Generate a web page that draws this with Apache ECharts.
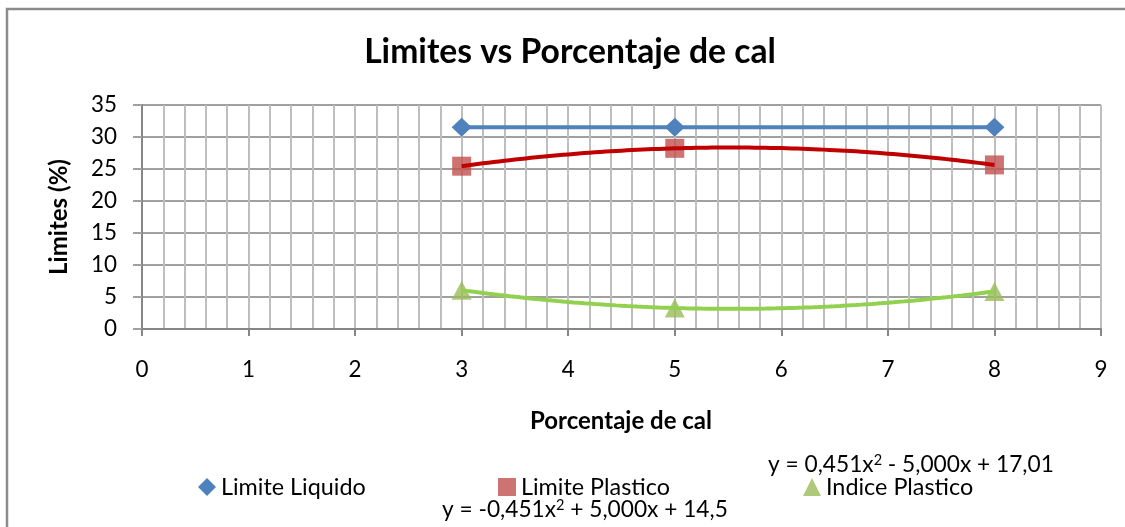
<!DOCTYPE html>
<html>
<head>
<meta charset="utf-8">
<script src="https://cdn.jsdelivr.net/npm/echarts@6/dist/echarts.min.js"></script>
<style>
  html, body { margin: 0; padding: 0; background: #ffffff; }
  #chart { width: 1125px; height: 527px; }
</style>
</head>
<body>
<div id="chart"></div>
<script>
// Porcentaje de cal (x) and measured limits (%)
const calPercent = [3, 5, 8];
const limiteLiquido = [31.51, 31.51, 31.51];
const limitePlastico = [25.44, 28.23, 25.64];
const indicePlastico = [6.07, 3.28, 5.87];

// Polynomial trendline coefficients [a, b, c] for y = a·x² + b·x + c
const fitPlastico = [-0.451, 5.000, 14.5];
const fitIndice = [0.451, -5.000, 17.01];

// Trendline equation labels (the {sup|2} token is the squared exponent)
const eqIndice = 'y = 0,451x{sup|2} - 5,000x + 17,01';
const eqPlastico = 'y = -0,451x{sup|2} + 5,000x + 14,5';

const seriesNames = ['Limite Liquido', 'Limite Plastico', 'Indice Plastico'];
const chartTitle = 'Limites vs Porcentaje de cal';
const xTitle = 'Porcentaje de cal';
const yTitle = 'Limites (%)';

const FONT = 'Lato, "Open Sans", sans-serif';
const SUP_RATIO = 0.64;

// --- text sizing helpers: pick a font size that gives a text a set width ---
const measureCtx = document.createElement('canvas').getContext('2d');
function textWidth(text, size, weight) {
  measureCtx.font = (weight || 'normal') + ' ' + size + 'px ' + FONT;
  return measureCtx.measureText(text).width;
}
function fitSize(text, width, weight) {
  return 100 * width / textWidth(text, 100, weight);
}
function fitEquation(eq, width) {
  const parts = eq.split('{sup|2}');
  const w = textWidth(parts[0], 100) + textWidth('2', 100 * SUP_RATIO) + textWidth(parts[1], 100);
  return 100 * width / w;
}

const legendSize = fitSize(seriesNames[1], 149);
const tickSize = fitSize('35', 26);
const titleSize = fitSize(chartTitle, 412, 'bold');
const xTitleSize = fitSize(xTitle, 182, 'bold');
const yTitleSize = fitSize(yTitle, 116, 'bold');
const eqSize = (fitEquation(eqIndice, 287) + fitEquation(eqPlastico, 285)) / 2;

function pairs(xs, ys) { return xs.map((x, i) => [x, ys[i]]); }

// sample a quadratic trendline across the range of the data
function trend(coef, xs) {
  const lo = Math.min(...xs), hi = Math.max(...xs);
  const pts = [];
  const n = 100;
  for (let i = 0; i <= n; i++) {
    const x = lo + (hi - lo) * i / n;
    pts.push([x, coef[0] * x * x + coef[1] * x + coef[2]]);
  }
  return pts;
}

function equationText(eq, x, y) {
  return {
    type: 'text', x: x, y: y, silent: true,
    style: {
      text: eq, fontFamily: FONT, fontSize: eqSize, fill: '#000',
      align: 'left', verticalAlign: 'middle', lineHeight: Math.round(eqSize * 1.05),
      rich: { sup: { fontFamily: FONT, fontSize: eqSize * SUP_RATIO, verticalAlign: 'top',
                     lineHeight: Math.round(eqSize * 1.05), fill: '#000' } }
    }
  };
}

const chart = echarts.init(document.getElementById('chart'), null, { renderer: 'canvas' });

const legendBase = {
  orient: 'horizontal',
  padding: 0,
  itemWidth: 18,
  itemHeight: 18,
  selectedMode: false,
  textStyle: { fontFamily: FONT, fontSize: legendSize, color: '#000', lineHeight: 26 }
};

chart.setOption({
  animation: false,
  backgroundColor: '#ffffff',
  grid: { left: 142, right: 24, top: 105, bottom: 198, containLabel: false },
  xAxis: {
    type: 'value',
    min: 0, max: 9, interval: 1,
    axisLine: { show: true, onZero: false, lineStyle: { color: '#868686', width: 2 } },
    axisTick: { show: true, length: 7, lineStyle: { color: '#868686', width: 2 } },
    axisLabel: { fontFamily: FONT, fontSize: tickSize, color: '#000', margin: 30 },
    splitLine: { show: true, lineStyle: { color: '#BEBEBE', width: 2 } },
    minorTick: { show: false, splitNumber: 5 },
    minorSplitLine: { show: true, lineStyle: { color: '#BEBEBE', width: 2 } }
  },
  yAxis: {
    type: 'value',
    min: 0, max: 35, interval: 5,
    axisLine: { show: true, lineStyle: { color: '#868686', width: 2 } },
    axisTick: { show: true, length: 9, lineStyle: { color: '#A0A0A0', width: 2 } },
    axisLabel: { fontFamily: FONT, fontSize: tickSize, color: '#000', margin: 25 },
    splitLine: { show: true, lineStyle: { color: '#A0A0A0', width: 2 } }
  },
  legend: [
    Object.assign({}, legendBase, { data: [{ name: seriesNames[0], icon: 'diamond' }], left: 198, top: 474 }),
    Object.assign({}, legendBase, { data: [{ name: seriesNames[1], icon: 'rect' }], left: 498, top: 474 }),
    Object.assign({}, legendBase, { data: [{ name: seriesNames[2], icon: 'triangle' }], left: 803, top: 474 })
  ],
  graphic: [
    { type: 'rect', silent: true, shape: { x: 7, y: 9, width: 1300, height: 700 },
      style: { fill: null, stroke: '#8C8C8C', lineWidth: 2.5 } },
    { type: 'text', x: 570, y: 52, silent: true,
      style: { text: chartTitle, fontFamily: FONT, fontWeight: 'bold', fontSize: titleSize,
               fill: '#000', align: 'center', verticalAlign: 'middle' } },
    { type: 'text', x: 621, y: 421, silent: true,
      style: { text: xTitle, fontFamily: FONT, fontWeight: 'bold', fontSize: xTitleSize,
               fill: '#000', align: 'center', verticalAlign: 'middle' } },
    { type: 'text', x: 59, y: 217, rotation: Math.PI / 2, silent: true,
      style: { text: yTitle, fontFamily: FONT, fontWeight: 'bold', fontSize: yTitleSize,
               fill: '#000', align: 'center', verticalAlign: 'middle' } },
    equationText(eqIndice, 768, 465),
    equationText(eqPlastico, 442, 510)
  ],
  series: [
    {
      name: seriesNames[0], type: 'line', data: pairs(calPercent, limiteLiquido),
      symbol: 'diamond', symbolSize: [20, 19],
      itemStyle: { color: '#4F81BD' }, lineStyle: { color: '#4F81BD', width: 4 }, z: 3
    },
    {
      name: seriesNames[1], type: 'scatter', data: pairs(calPercent, limitePlastico),
      symbol: 'rect', symbolSize: [19, 19],
      itemStyle: { color: '#C0504D' }, z: 3
    },
    {
      name: seriesNames[2], type: 'scatter', data: pairs(calPercent, indicePlastico),
      symbol: 'triangle', symbolSize: [20, 19],
      itemStyle: { color: '#9BBB59' }, z: 3
    },
    {
      name: 'trend-plastico', type: 'line', data: trend(fitPlastico, calPercent),
      showSymbol: false, symbol: 'none', smooth: false,
      lineStyle: { color: '#C00000', width: 4 }, z: 4, silent: true
    },
    {
      name: 'trend-indice', type: 'line', data: trend(fitIndice, calPercent),
      showSymbol: false, symbol: 'none', smooth: false,
      lineStyle: { color: '#92D050', width: 4 }, z: 4, silent: true
    }
  ]
});
</script>
</body>
</html>
